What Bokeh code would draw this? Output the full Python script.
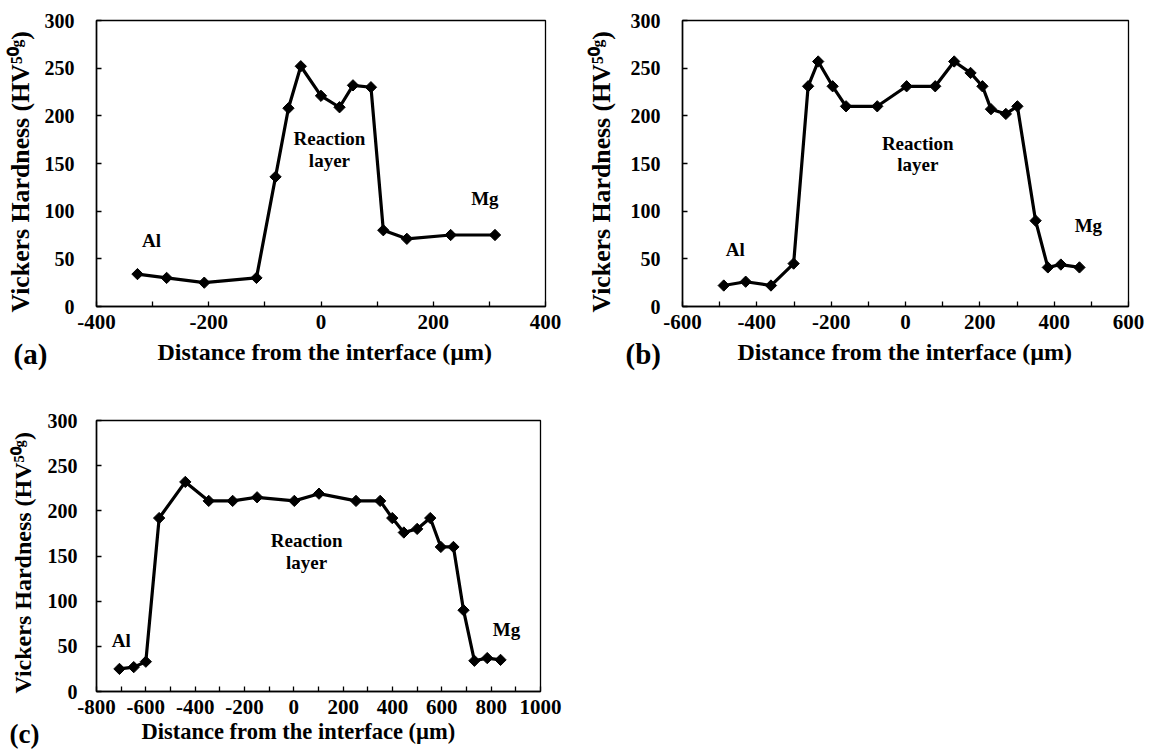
import math
from bokeh.plotting import figure
from bokeh.models import Range1d, FixedTicker, Label, Title
from bokeh.layouts import row, column
from bokeh.embed import file_html
from bokeh.resources import INLINE

FONT = "Liberation Serif"

# ---------------- data ----------------
a_x = [-327, -275, -208, -115, -81, -58, -36, 0, 33, 57, 89, 111, 153, 231, 310]
a_y = [34, 30, 25, 30, 136, 208, 252, 221, 209, 232, 230, 80, 71, 75, 75]

b_x = [-489, -430, -362, -301, -262, -235, -196, -160, -76, 3, 80, 131, 175, 207,
       230, 270, 301, 350, 383, 418, 468]
b_y = [22, 26, 22, 45, 231, 257, 231, 210, 210, 231, 231, 257, 245, 231,
       207, 202, 210, 90, 41, 44, 41]

c_x = [-707, -649, -600, -546, -440, -345, -248, -149, 2, 102, 252, 350, 399, 446,
       500, 553, 596, 647, 688, 732, 784, 838]
c_y = [25, 27, 33, 192, 232, 211, 211, 215, 211, 219, 211, 211, 192, 176,
       180, 192, 160, 160, 90, 34, 37, 35]

a_xticks = [-400, -200, 0, 200, 400]
b_xticks = [-600, -400, -200, 0, 200, 400, 600]
c_xticks = [-800, -600, -400, -200, 0, 200, 400, 600, 800, 1000]
y_ticks = [0, 50, 100, 150, 200, 250, 300]

panel_letters = ["(a)", "(b)", "(c)"]
x_title = "Distance from the interface (\u00b5m)"
y_title = "Vickers Hardness (HV\u2075\u2070\u1d4d)"
region_labels = ["Al", "Mg"]
layer_lines = ["Reaction", "layer"]


def make_panel(W, H, bl, br, bt, bb, xr, xticks, data_x, data_y, al_pos, mg_pos,
               react_pos, letter, letter_size, letter_off, letter_so,
               xt_off, xt_so, xt_size, yt_off, yt_so, yt_size, y_standoff,
               x_standoff=8):
    p = figure(width=W, height=H, x_range=Range1d(*xr), y_range=Range1d(0, 300),
               output_backend="svg", toolbar_location=None,
               min_border_left=bl, min_border_right=br,
               min_border_top=bt, min_border_bottom=bb)
    p.background_fill_color = "white"
    p.border_fill_color = "white"
    p.xgrid.visible = False
    p.ygrid.visible = False
    p.outline_line_color = "black"
    p.outline_line_width = 1.3

    step = xticks[1] - xticks[0]
    minors = [t + step / 2 for t in xticks[:-1]]
    p.xaxis.ticker = FixedTicker(ticks=xticks, minor_ticks=minors)
    p.yaxis.ticker = FixedTicker(ticks=y_ticks, minor_ticks=[])
    p.xaxis.major_label_overrides = {t: str(t) for t in xticks}
    for ax in (p.xaxis, p.yaxis):
        ax.axis_line_color = "black"
        ax.axis_line_width = 1.5
        ax.major_tick_in = 5
        ax.major_tick_out = 0
        ax.minor_tick_in = 5
        ax.minor_tick_out = 0
        ax.major_tick_line_width = 1.3
        ax.minor_tick_line_width = 1.3
        ax.major_tick_line_color = "black"
        ax.minor_tick_line_color = "black"
        ax.major_label_text_font = FONT
        ax.major_label_text_font_style = "bold"
        ax.major_label_text_color = "black"
    p.xaxis.major_label_text_font_size = "21px"
    p.yaxis.major_label_text_font_size = "20px"
    p.xaxis.major_label_standoff = x_standoff
    p.yaxis.major_label_standoff = y_standoff

    p.line(data_x, data_y, line_color="black", line_width=3.2)
    p.scatter(data_x, data_y, marker="square", angle=math.pi / 4, size=8,
              fill_color="black", line_color="black")

    def txt(x, y, s):
        p.add_layout(Label(x=x, y=y, text=s, text_font=FONT, text_font_style="bold",
                           text_font_size="19px", text_color="black",
                           text_align="center", text_baseline="middle"))

    txt(al_pos[0], al_pos[1], region_labels[0])
    txt(mg_pos[0], mg_pos[1], region_labels[1])
    txt(react_pos[0], react_pos[1], layer_lines[0])
    txt(react_pos[0], react_pos[2], layer_lines[1])

    def title(text, side, size, off, so):
        p.add_layout(Title(text=text, align="left", offset=off, standoff=so,
                           vertical_align="top",
                           text_font=FONT, text_font_style="bold",
                           text_font_size=size, text_color="black"), side)

    title(y_title, "left", yt_size, yt_off, yt_so)
    title(x_title, "below", xt_size, xt_off, xt_so)
    title(letter, "below", letter_size, letter_off, letter_so)
    return p


pa = make_panel(576, 382, 96, 31, 20, 76, (-400, 400), a_xticks, a_x, a_y,
                (-302, 69), (292, 113), (15, 176, 153),
                panel_letters[0], "29px", -83, -72,
                61, 14, "24px",
                -6, 9.3, "25.8px", 22)

pb = make_panel(574, 382, 106, 22, 20, 76, (-600, 600), b_xticks, b_x, b_y,
                (-458, 60), (492, 85), (33, 171, 149),
                panel_letters[1], "29px", -57, -72,
                55, 14, "24px",
                -6, 19.3, "25.8px", 22)

pc = make_panel(576, 373, 96, 36, 38, 64, (-800, 1000), c_xticks, c_x, c_y,
                (-700, 56), (862, 69), (52, 167, 143),
                panel_letters[2], "27px", -87, -62,
                45, 5.6, "22.5px",
                -2, 14.3, "24px", 19)

layout = column(row(pa, pb), pc)
open("out.html", "w").write(file_html(layout, INLINE))
